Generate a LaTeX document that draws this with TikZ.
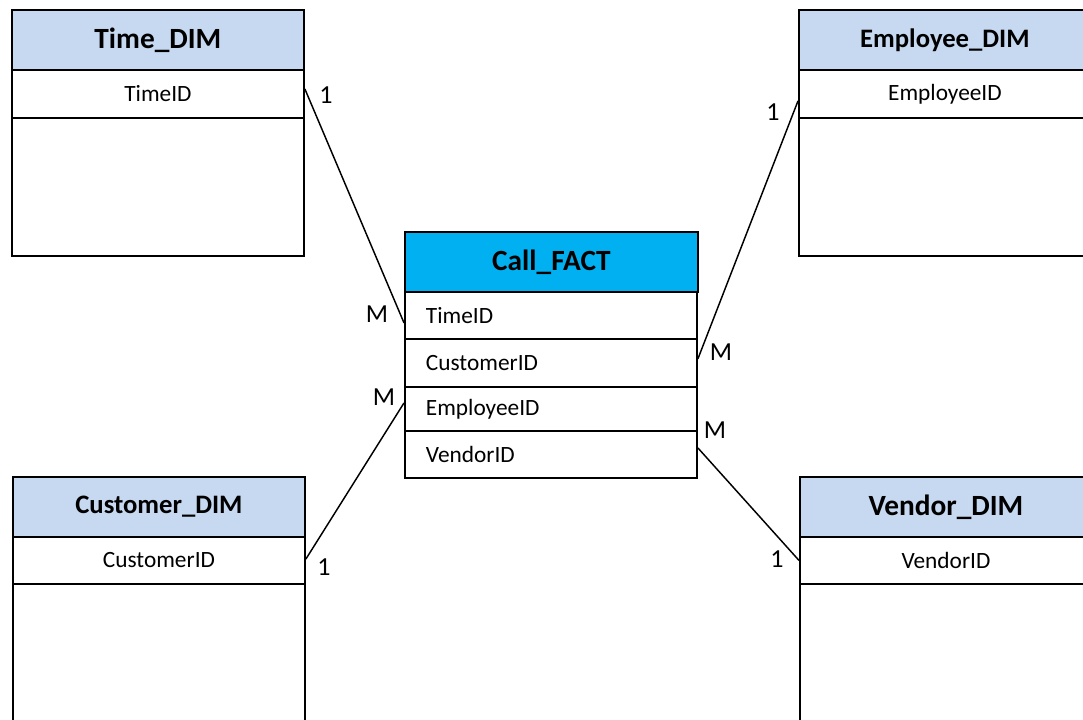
\documentclass[tikz,border=0pt]{standalone}
\usepackage{fontspec}
\setmainfont{Carlito}
\definecolor{dimblue}{HTML}{C6D9F1}
\definecolor{factblue}{HTML}{00B0F0}
\tikzset{
  tblhead/.style={draw, line width=1.4pt, anchor=north west, inner sep=0pt,
    minimum width=219pt, minimum height=45pt, fill=dimblue,
    font=\fontsize{22}{26}\selectfont\bfseries},
  tblrow/.style={draw, line width=1.4pt, anchor=north west, inner sep=0pt,
    minimum width=219pt, fill=white, font=\fontsize{17.5}{20}\selectfont},
  factrow/.style={draw, line width=1.4pt, anchor=north west, inner ysep=0pt,
    inner xsep=15.75pt, text width=187.5pt, align=left, fill=white,
    font=\fontsize{17.5}{20}\selectfont},
  card/.style={inner sep=0pt, font=\fontsize{19.5}{22}\selectfont},
  link/.style={line width=1.1pt}
}
\begin{document}
\begin{tikzpicture}[x=0.75pt, y=-0.75pt]
\useasboundingbox (0,0) rectangle (1083,720);
\clip (0,0) rectangle (1083,720);

% Time dimension
\node[tblhead] (timeH) at (11,9) {Time\_DIM};
\node[tblrow, minimum height=36pt] (timeK) at (11,69) {TimeID};
\node[tblrow, minimum height=103.5pt] (timeB) at (11,117) {};

% Employee dimension
\node[tblhead, font=\fontsize{20}{24}\selectfont\bfseries] (empH) at (798,9) {Employee\_DIM};
\node[tblrow, minimum height=36pt] (empK) at (798,69) {EmployeeID};
\node[tblrow, minimum height=103.5pt] (empB) at (798,117) {};

% Customer dimension
\node[tblhead, font=\fontsize{20}{24}\selectfont\bfseries] (custH) at (12,476) {Customer\_DIM};
\node[tblrow, minimum height=35.25pt] (custK) at (12,536) {CustomerID};
\node[tblrow, minimum height=120pt] (custB) at (12,583) {};

% Vendor dimension
\node[tblhead] (vendH) at (799,476) {Vendor\_DIM};
\node[tblrow, minimum height=35.25pt] (vendK) at (799,536) {VendorID};
\node[tblrow, minimum height=120pt] (vendB) at (799,583) {};

% Fact table
\node[tblhead, fill=factblue, minimum width=219.75pt] (factH) at (404,231) {Call\_FACT};
\node[factrow, minimum height=35.25pt] (fTime) at (404,291) {TimeID};
\node[factrow, minimum height=36pt] (fCust) at (404,338) {CustomerID};
\node[factrow, minimum height=33pt] (fEmp) at (404,386) {EmployeeID};
\node[factrow, minimum height=35.25pt] (fVend) at (404,430) {VendorID};

% Relationships
\draw[link] ([yshift=3.75pt]timeK.east) -- ([yshift=-5.6pt]fTime.west);
\draw[link] ([yshift=3pt]fCust.east) -- ([yshift=-5.25pt]empK.west);
\draw[link] ([yshift=4.5pt]fEmp.west) -- ([yshift=1pt]custK.east);
\draw[link] ([yshift=4.9pt]fVend.east) -- (vendK.west);

% Cardinalities
\node[card] (c1) at (326,95) {1};
\node[card] (c2) at (377,314) {M};
\node[card] (c3) at (773,112) {1};
\node[card] (c4) at (721,352) {M};
\node[card] (c5) at (384,397) {M};
\node[card] (c6) at (324,567) {1};
\node[card] (c7) at (715,430) {M};
\node[card] (c8) at (777,559) {1};
\end{tikzpicture}
\end{document}
